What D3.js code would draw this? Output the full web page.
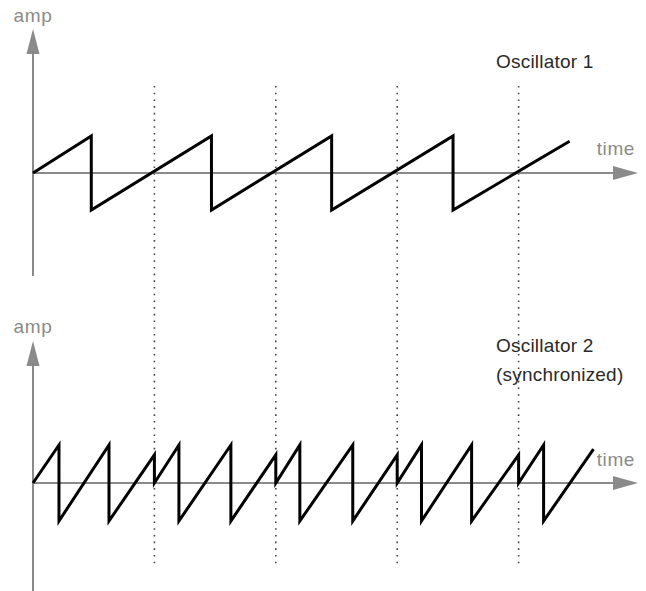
<!DOCTYPE html>
<html>
<head>
<meta charset="utf-8">
<script src="https://cdn.jsdelivr.net/npm/d3@7"></script>
<style>
  html, body { margin: 0; padding: 0; background: #fff; }
  svg { display: block; }
  text { font-family: "Liberation Sans", Arial, sans-serif; }
</style>
</head>
<body>
<svg id="chart" width="646" height="591"></svg>
<script>
// ---- data (time in sync periods, amplitude normalised to ±1) ----
const syncTimes = [1, 2, 3, 4];

const osc1Time = [0, 0.48, 0.48, 1.47, 1.47, 2.46, 2.46, 3.46, 3.46, 4.42];
const osc1Amp  = [0, 1,   -1,   1,   -1,   1,   -1,   1,   -1,   0.86];

const osc2Time = [0, 0.214, 0.214, 0.626, 0.626, 1, 1,
                  1.202, 1.202, 1.63, 1.63, 2, 2,
                  2.198, 2.198, 2.634, 2.634, 3, 3,
                  3.2, 3.2, 3.613, 3.613, 4, 4,
                  4.206, 4.206, 4.617];
const osc2Amp  = [0, 1, -1, 1, -1, 0.74, 0,
                  1, -1, 1, -1, 0.74, 0,
                  1, -1, 1, -1, 0.74, 0,
                  1, -1, 1, -1, 0.74, 0,
                  1, -1, 0.89];

const axisLabels = { amp: "amp", time: "time" };
const panelTitles = [["Oscillator 1"], ["Oscillator 2", "(synchronized)"]];

// ---- layout ----
const svg = d3.select("#chart");
const axisColor = "#8a8a8a";
const x = d3.scaleLinear().domain([0, 5]).range([33, 33 + 5 * 121.4]);

const panels = [
  { zeroY: 173, amp: 37, yTop: 29, yBottom: 276, ampLabelY: 22,
    timeLabelY: 155, titleY: 68, times: osc1Time, amps: osc1Amp, titles: panelTitles[0] },
  { zeroY: 483, amp: 38, yTop: 341, yBottom: 591, ampLabelY: 333,
    timeLabelY: 466, titleY: 352, times: osc2Time, amps: osc2Amp, titles: panelTitles[1] }
];

// dotted sync lines
svg.append("g").selectAll("line").data(syncTimes).join("line")
  .attr("x1", d => x(d)).attr("x2", d => x(d))
  .attr("y1", 86).attr("y2", 566)
  .attr("stroke", "#444").attr("stroke-width", 1.6)
  .attr("stroke-dasharray", "1.6,5.1");

panels.forEach(p => {
  const y = d3.scaleLinear().domain([-1, 1]).range([p.zeroY + p.amp, p.zeroY - p.amp]);
  const g = svg.append("g");
  const x0 = x(0);

  // vertical axis
  g.append("line").attr("x1", x0).attr("x2", x0)
    .attr("y1", p.yTop + 20).attr("y2", p.yBottom)
    .attr("stroke", axisColor).attr("stroke-width", 2);
  g.append("path")
    .attr("d", `M${x0},${p.yTop} L${x0 - 6.5},${p.yTop + 25} L${x0 + 6.5},${p.yTop + 25} Z`)
    .attr("fill", axisColor);
  g.append("text").attr("x", x0).attr("y", p.ampLabelY)
    .attr("text-anchor", "middle").attr("font-size", 19).attr("letter-spacing", 0.6)
    .attr("fill", axisColor).text(axisLabels.amp);

  // horizontal axis
  const tip = 638;
  g.append("line").attr("x1", x0).attr("x2", tip - 20)
    .attr("y1", p.zeroY).attr("y2", p.zeroY)
    .attr("stroke", axisColor).attr("stroke-width", 2);
  g.append("path")
    .attr("d", `M${tip},${p.zeroY} L${tip - 25},${p.zeroY - 7} L${tip - 25},${p.zeroY + 7} Z`)
    .attr("fill", axisColor);
  g.append("text").attr("x", 635).attr("y", p.timeLabelY)
    .attr("text-anchor", "end").attr("font-size", 19).attr("letter-spacing", 0.6)
    .attr("fill", axisColor).text(axisLabels.time);

  // waveform
  const pts = p.times.map((t, i) => [t, p.amps[i]]);
  const line = d3.line().x(d => x(d[0])).y(d => y(d[1]));
  g.append("path").datum(pts).attr("d", line)
    .attr("fill", "none").attr("stroke", "#000").attr("stroke-width", 3)
    .attr("stroke-linejoin", "miter").attr("stroke-miterlimit", 10);

  // titles
  p.titles.forEach((t, i) => {
    g.append("text").attr("x", 496).attr("y", p.titleY + i * 29)
      .attr("font-size", 19).attr("fill", "#2a2a2a").attr("letter-spacing", 0.2)
      .text(t);
  });
});
</script>
</body>
</html>
